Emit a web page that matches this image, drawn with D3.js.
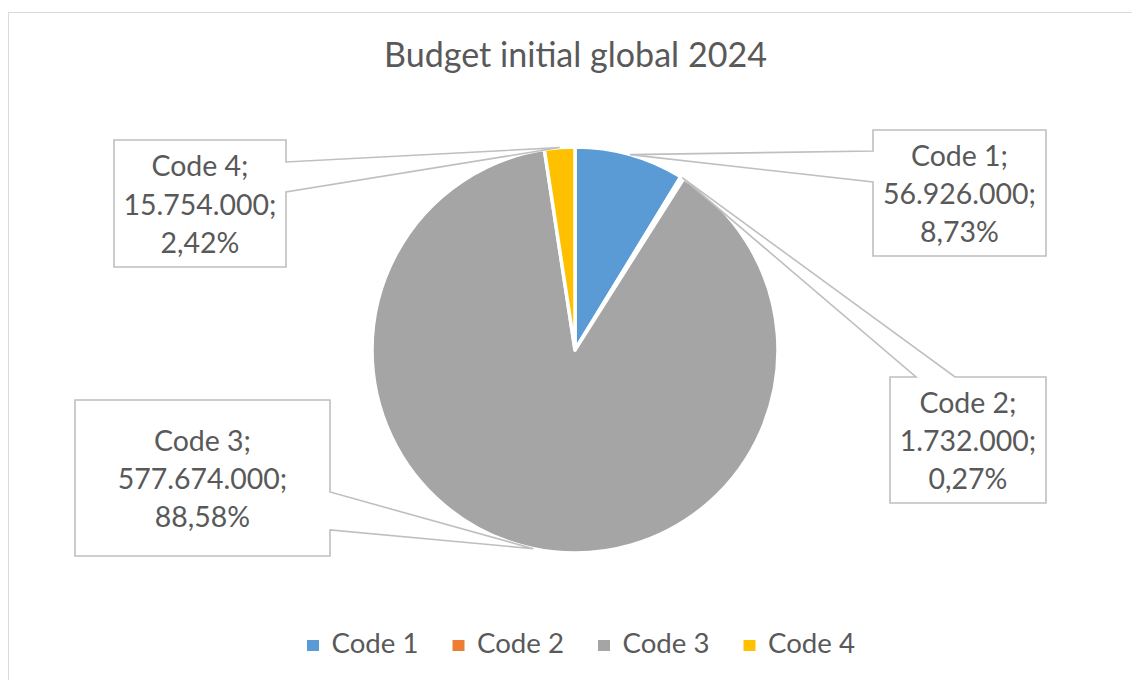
<!DOCTYPE html>
<html>
<head>
<meta charset="utf-8">
<script src="https://cdn.jsdelivr.net/npm/d3@7"></script>
<style>
  html, body { margin: 0; padding: 0; background: #fff; }
  svg { display: block; }
  text { font-family: Lato, "Open Sans", sans-serif; fill: #595959; }
</style>
</head>
<body>
<svg id="chart" width="1132" height="680"></svg>
<script>
// ---- data ----
const title = "Budget initial global 2024";
const categories = ["Code 1", "Code 2", "Code 3", "Code 4"];
const values = [56926000, 1732000, 577674000, 15754000];
// percentages as printed on the chart labels
const percents = [8.73, 0.27, 88.58, 2.42];
const colors = ["#5B9BD5", "#ED7D31", "#A5A5A5", "#FFC000"];

// ---- layout (label callout boxes; side = where the pointer leaves the box) ----
const callouts = [
  { x: 873, y: 130, w: 173, h: 126, side: "left",  a: 21, b: 52 },
  { x: 890, y: 377, w: 156, h: 126, side: "top",   a: 26, b: 65 },
  { x: 75,  y: 400, w: 255, h: 156, side: "right", a: 92, b: 130 },
  { x: 114, y: 140, w: 172, h: 127, side: "right", a: 22, b: 52 }
];

const svg = d3.select("#chart");
const W = 1132, H = 680;
const cx = 575, cy = 350, r = 203;

// chart area border
svg.append("rect").attr("x", 8.5).attr("y", 12.5).attr("width", W).attr("height", H)
  .attr("fill", "#fff").attr("stroke", "#d9d9d9").attr("stroke-width", 1);

const loc = d3.formatLocale({ decimal: ",", thousands: ".", grouping: [3], currency: ["", "€"] });
const fmtNum = loc.format(",d");
const fmtPct = loc.format(".2f");

// font sizing: fit text widths to reference widths
function fitSize(str, targetWidth) {
  const t = svg.append("text").attr("font-size", 100).text(str);
  const w = t.node().getComputedTextLength();
  t.remove();
  return 100 * targetWidth / w;
}
const labelSize = fitSize("15.754.000;", 153);
const titleSize = fitSize(title, 383);
const legendSize = fitSize("Code 1", 87);

// title
svg.append("text").attr("x", 575.5).attr("y", 66.7).attr("text-anchor", "middle")
  .attr("font-size", titleSize).text(title);

// pie
const pie = d3.pie().sort(null).value(d => d)(values);
const arc = d3.arc().innerRadius(0).outerRadius(r);
const g = svg.append("g").attr("transform", `translate(${cx},${cy})`);
g.selectAll("path.slice").data(pie).join("path")
  .attr("class", "slice")
  .attr("d", arc)
  .attr("fill", (d, i) => colors[i])
  .attr("stroke", "#fff").attr("stroke-width", 3.5).attr("stroke-linejoin", "round");

// callouts
const tipArc = d3.arc().innerRadius(r).outerRadius(r);
pie.forEach((d, i) => {
  const c = callouts[i];
  const [tx0, ty0] = tipArc.centroid(d);
  const tx = cx + tx0, ty = cy + ty0;
  const { x, y, w, h, a, b } = c;
  let pts;
  if (c.side === "top") {
    pts = [[x, y], [x + a, y], [tx, ty], [x + b, y], [x + w, y], [x + w, y + h], [x, y + h]];
  } else if (c.side === "right") {
    pts = [[x, y], [x + w, y], [x + w, y + a], [tx, ty], [x + w, y + b], [x + w, y + h], [x, y + h]];
  } else {
    pts = [[x, y], [x + w, y], [x + w, y + h], [x, y + h], [x, y + b], [tx, ty], [x, y + a]];
  }
  svg.append("path")
    .attr("d", d3.line()(pts) + "Z")
    .attr("fill", "#fff").attr("stroke", "#bfbfbf").attr("stroke-width", 1.6)
    .attr("stroke-linejoin", "miter");

  const lines = [categories[i] + ";", fmtNum(values[i]) + ";", fmtPct(percents[i]) + "%"];
  const mx = x + w / 2, my = y + h / 2 + 11;
  lines.forEach((s, k) => {
    svg.append("text").attr("x", mx).attr("y", my + (k - 1) * 38.3)
      .attr("text-anchor", "middle").attr("font-size", labelSize).text(s);
  });
});

// legend
const legX = [307, 452.5, 598, 743.5];
const lg = svg.append("g");
categories.forEach((c, i) => {
  lg.append("rect").attr("x", legX[i]).attr("y", 640).attr("width", 12).attr("height", 11)
    .attr("fill", colors[i]);
  lg.append("text").attr("x", legX[i] + 24.5).attr("y", 653)
    .attr("font-size", legendSize).text(c);
});
</script>
</body>
</html>
